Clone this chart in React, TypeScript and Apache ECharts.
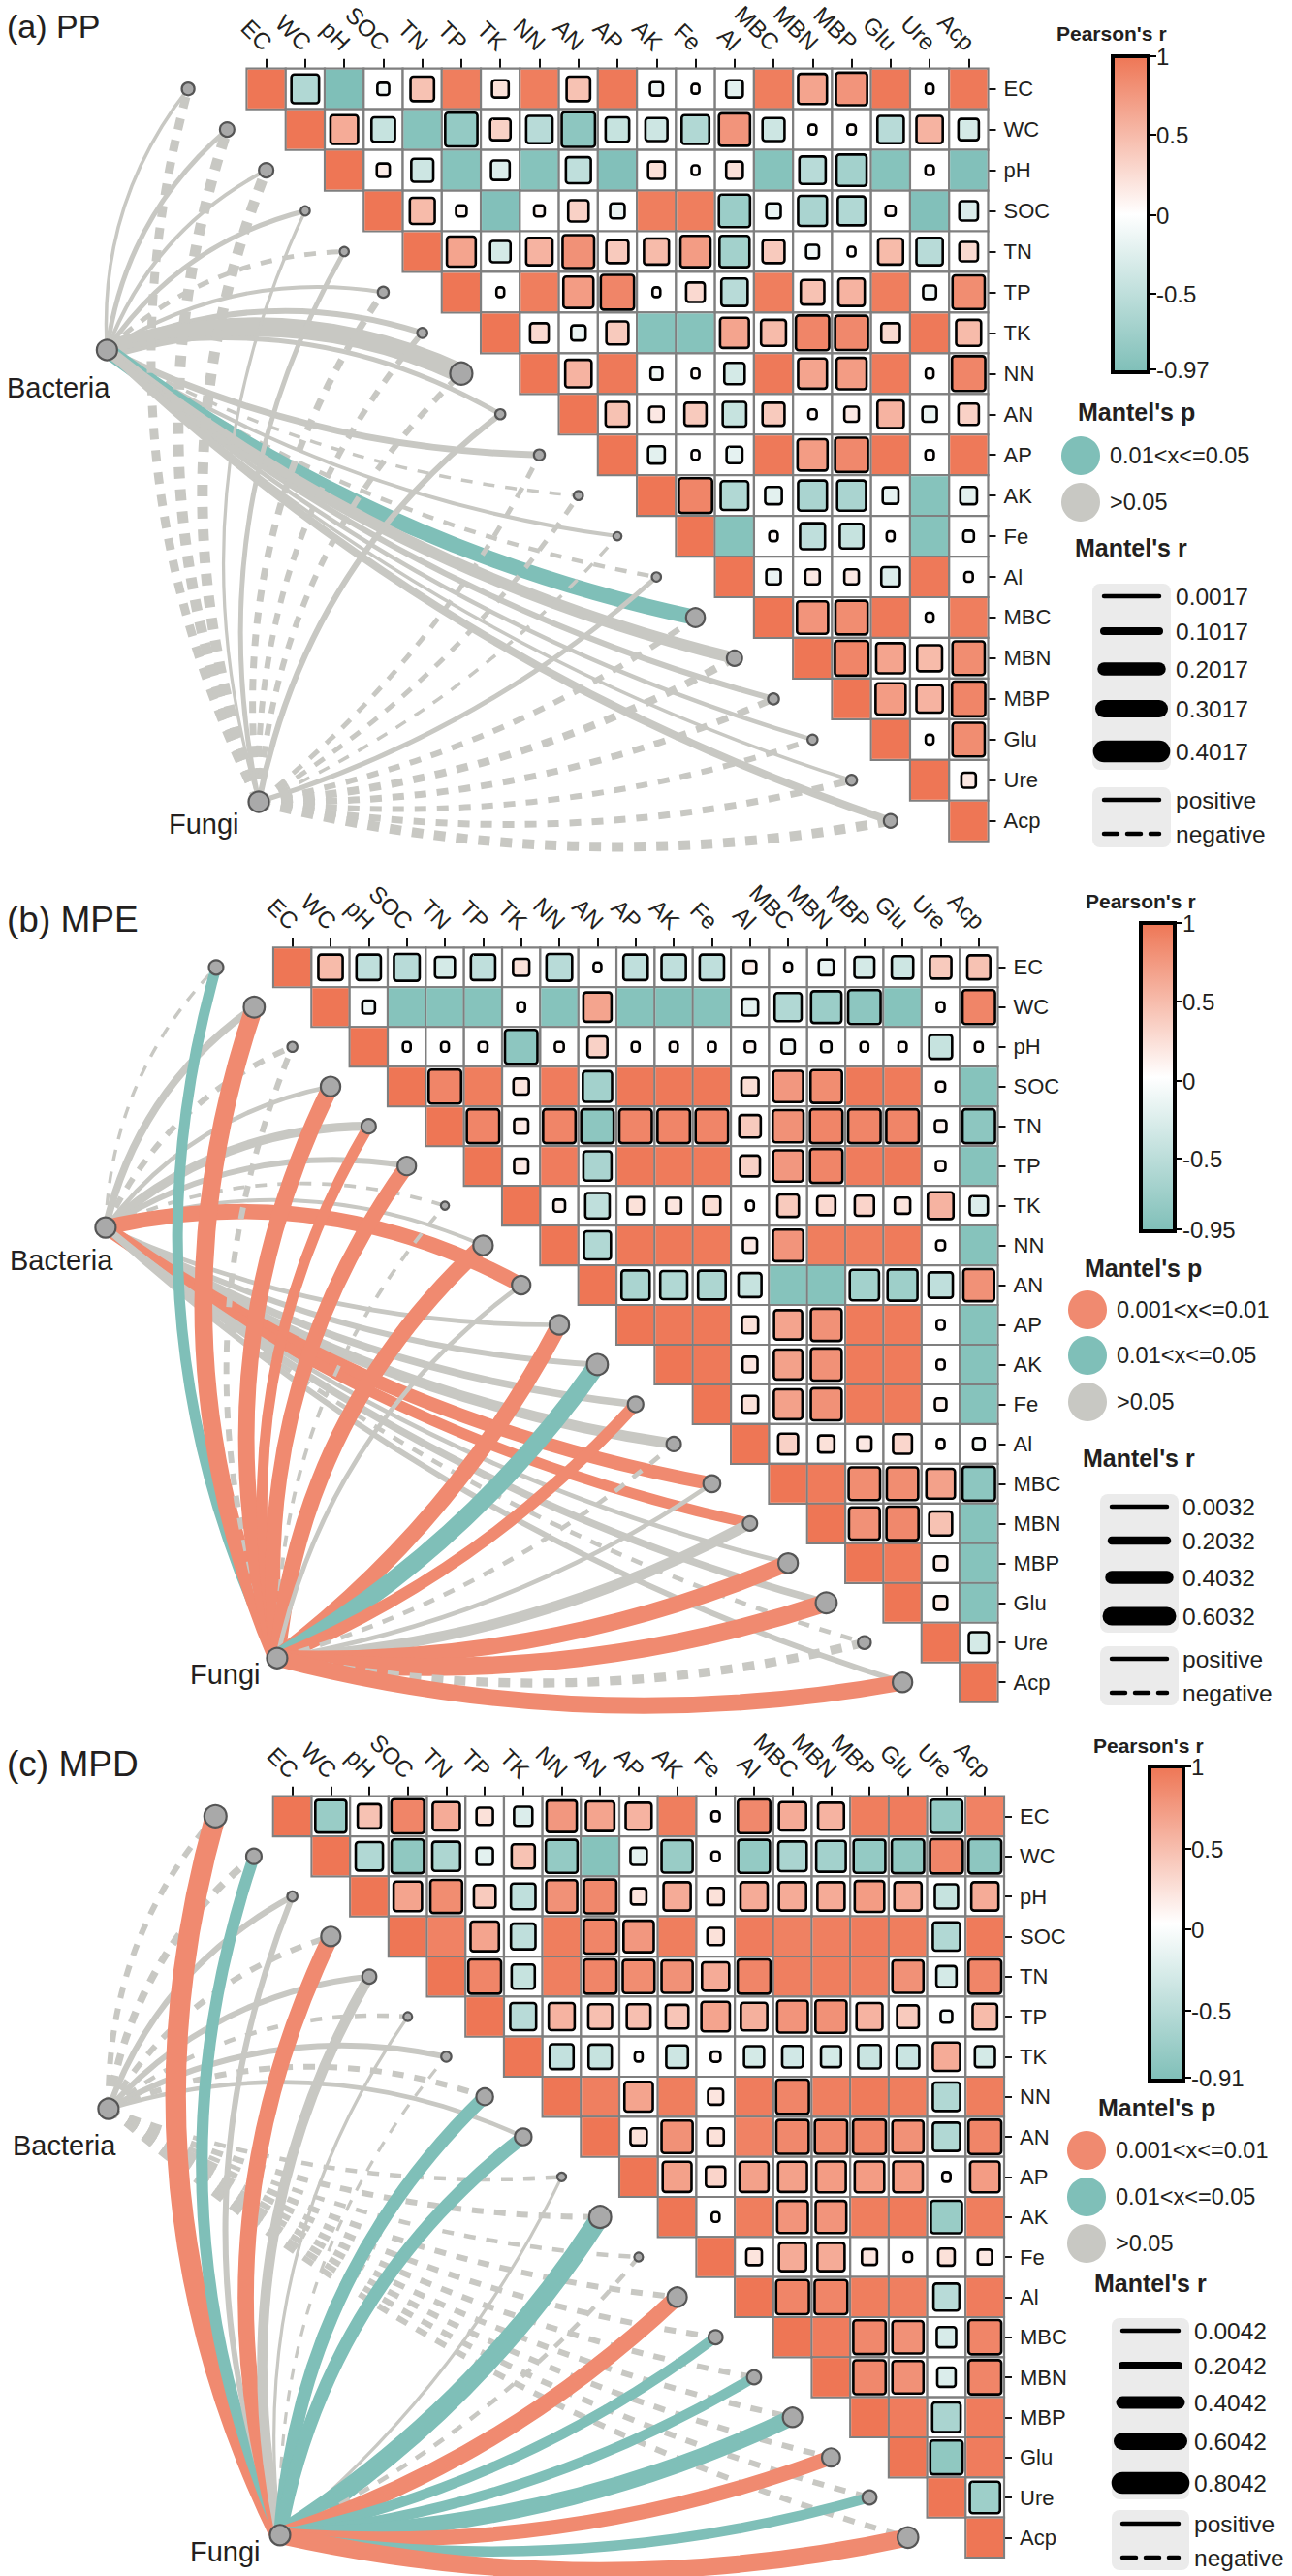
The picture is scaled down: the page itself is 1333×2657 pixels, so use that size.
import React, { useEffect, useRef } from "react";
import * as echarts from "echarts";

const labels = ["EC","WC","pH","SOC","TN","TP","TK","NN","AN","AP","AK","Fe","Al","MBC","MBN","MBP","Glu","Ure","Acp"];

// Pearson's r, upper triangle: each row starts on the diagonal
const ppR = [
 [1,-.55,-.9,-.1,.4,.85,.2,.85,.4,.88,-.12,.04,-.2,.85,.6,.7,.88,.03,.88],
 [1,.55,-.4,-.85,-.75,.3,-.5,-.8,-.4,-.35,-.55,.7,-.35,.03,.05,-.5,.5,-.3],
 [1,.12,-.35,-.85,-.25,-.85,-.45,-.88,.2,.03,.2,-.85,-.5,-.65,-.85,.05,-.88],
 [1,.45,.08,-.88,.08,.3,-.15,.85,.85,-.7,-.15,-.6,-.55,.07,-.88,-.25],
 [1,.6,-.3,.5,.72,.35,.45,.65,-.65,.35,-.12,.03,.45,-.5,.25],
 [1,.04,.85,.65,.8,.04,.25,-.5,.85,.4,.5,.85,-.12,.75],
 [1,.25,-.15,.35,-.85,-.85,.6,.45,.8,.78,.25,.88,.45],
 [1,.5,.88,-.1,.04,-.3,.88,.6,.65,.87,.04,.8],
 [1,.4,.15,.35,-.4,.35,.05,.15,.5,-.15,.3],
 [1,-.2,.03,-.18,.88,.65,.78,.88,.05,.88],
 [1,.8,-.55,-.2,-.6,-.6,-.18,-.85,-.2],
 [1,-.85,.05,-.45,-.4,.03,-.85,-.08],
 [1,-.15,.15,.15,-.25,.88,.05],
 [1,.7,.75,.88,.03,.85],
 [1,.8,.6,.45,.75],
 [1,.65,.5,.8],
 [1,.03,.75],
 [1,.15],
 [1],
];
const mpeR = [
 [1,.45,-.45,-.5,-.3,-.45,.2,-.5,.03,-.45,-.45,-.45,.12,.03,-.17,-.3,-.35,.35,.4],
 [1,-.12,-.85,-.85,-.85,.03,-.85,.6,-.85,-.87,-.85,-.2,-.55,-.7,-.8,-.85,.03,.8],
 [1,.04,.03,.06,-.8,.06,.3,.04,.05,.03,.08,-.13,-.08,.03,.05,-.4,.04],
 [1,.8,.85,.18,.86,-.65,.88,.88,.88,.22,.68,.75,.88,.87,.06,-.85],
 [1,.8,.15,.8,-.8,.8,.8,.8,.35,.72,.8,.8,.8,.1,-.8],
 [1,.15,.86,-.6,.88,.87,.87,.3,.68,.8,.86,.88,.07,-.85],
 [1,.1,-.45,.2,.17,.22,.03,.35,.25,.28,.18,.5,-.25],
 [1,-.55,.88,.88,.87,.15,.7,.85,.85,.87,.06,-.85],
 [1,-.6,-.55,-.58,-.4,-.85,-.85,-.65,-.68,-.45,.72],
 [1,.88,.88,.2,.6,.72,.87,.87,.05,-.85],
 [1,.88,.17,.62,.72,.87,.87,.05,-.85],
 [1,.2,.62,.72,.87,.87,.1,-.85],
 [1,.3,.2,.15,.27,.04,-.1],
 [1,.87,.75,.75,.62,-.8],
 [1,.72,.78,.4,-.85],
 [1,.87,.13,-.85],
 [1,.13,-.85],
 [1,-.3],
 [1],
];
const mpdR = [
 [1,-.72,.4,.8,.55,.2,-.25,.68,.6,.5,.85,.05,.78,.55,.5,.85,.86,-.75,.82],
 [1,-.55,-.78,-.58,-.2,.4,-.75,-.85,-.2,-.72,.05,-.75,-.6,-.65,-.75,-.78,.8,-.8],
 [1,.6,.75,.35,-.45,.72,.78,.18,.55,.2,.55,.55,.55,.65,.55,-.4,.55],
 [1,.82,.6,-.45,.85,.8,.68,.85,.2,.86,.83,.84,.86,.85,-.55,.87],
 [1,.8,-.4,.84,.8,.75,.72,.55,.8,.84,.85,.84,.72,-.3,.8],
 [1,-.5,.5,.42,.42,.38,.6,.52,.7,.72,.5,.35,-.1,.45],
 [1,-.42,-.4,.04,-.35,.07,-.3,-.32,-.3,-.38,-.38,.55,-.3],
 [1,.84,.6,.85,.17,.86,.8,.84,.87,.85,-.55,.85],
 [1,.2,.72,.2,.82,.78,.78,.8,.72,-.55,.8],
 [1,.62,.28,.62,.62,.65,.65,.65,.05,.65],
 [1,.04,.85,.7,.7,.85,.87,-.72,.85],
 [1,.18,.55,.55,.17,.05,.2,.15],
 [1,.8,.8,.85,.84,-.5,.86],
 [1,.86,.78,.72,-.28,.8],
 [1,.78,.72,-.25,.8],
 [1,.86,-.6,.86],
 [1,-.78,.86],
 [1,-.68],
 [1],
];

// Mantel's r per environment variable (a negative value is drawn dashed)
const ppBacteriaR = [.01,.04,.02,.04,-.04,.02,.06,.34,.04,.08,-.01,.02,-.03,.26,.18,.06,.03,.01,.1];
const ppFungiR = [-.12,-.16,-.16,.005,.04,-.08,-.06,-.06,.06,-.04,-.04,-.01,.04,-.06,-.1,-.08,-.06,-.08,-.14];
const mpeBacteriaR = [-.01,.11,-.07,.04,.15,.07,-.02,.02,.3,.04,.07,.11,.19,.26,.19,.04,.11,-.04,.07];
const mpeFungiR = [.19,.37,-.07,.33,.19,.3,-.02,.33,.04,.33,.37,.22,-.04,.04,.19,.33,.37,-.15,.33];
const mpdBacteriaR = [-.08,-.12,.08,-.08,.08,-.04,.08,-.08,.04,-.04,-.08,-.04,-.08,-.08,-.08,-.08,-.08,-.08,-.08];
const mpdFungiR = [.48,.24,.08,.36,.2,.005,-.005,.28,.28,.005,.44,-.04,.36,.2,.2,.36,.32,.2,.4];

// Mantel's p class per environment variable: 0 = 0.001<x<=0.01, 1 = 0.01<x<=0.05, 2 = >0.05
const ppBacteriaP = [2,2,2,2,2,2,2,2,2,2,2,2,2,1,2,2,2,2,2];
const ppFungiP = [2,2,2,2,2,2,2,2,2,2,2,2,2,2,2,2,2,2,2];
const mpeBacteriaP = [2,2,2,2,2,2,2,2,0,2,2,2,2,0,0,2,2,2,2];
const mpeFungiP = [1,0,2,0,0,0,2,0,2,0,1,0,2,2,2,0,0,2,0];
const mpdBacteriaP = [2,2,2,2,2,2,2,2,2,2,2,2,2,2,2,2,2,2,2];
const mpdFungiP = [0,1,2,0,2,2,2,1,1,2,1,2,0,1,1,1,0,1,0];

const ppLegendR = ["0.0017","0.1017","0.2017","0.3017","0.4017"];
const mpeLegendR = ["0.0032","0.2032","0.4032","0.6032"];
const mpdLegendR = ["0.0042","0.2042","0.4042","0.6042","0.8042"];
const ppTicks = ["1","0.5","0","-0.5","-0.97"];
const mpeTicks = ["1","0.5","0","-0.5","-0.95"];
const mpdTicks = ["1","0.5","0","-0.5","-0.91"];
const pLabels = ["0.001<x<=0.01","0.01<x<=0.05",">0.05"];

const FONT = '"Liberation Sans", Arial, sans-serif';
const INK = "#231f20";
const P_COLORS = ["#F08A70","#7FBFB8","#C8C8C3"];

const panels = [
 { title:"(a) PP", titleSize:34, titleY:27, box:[254.5,70.7,765,797], matrix:ppR,
   bact:[-4.08,6.42], fung:[-0.19,17.53], bR:ppBacteriaR, fR:ppFungiR, bP:ppBacteriaP, fP:ppFungiP, k:50,
   bLabel:[7,400], fLabel:[174,850], bSize:29,
   pearsonX:1090, pearsonY:34, bar:[1148,58,37,326], tickText:ppTicks, tickY:[58,139,222,303,381],
   pTitle:[1112,425], pKeys:[1,2], pX:1115, pY:[470,518], pLabelX:1145,
   rTitle:[1109,565], rBox:[1127,602,81,192], rLegend:ppLegendR, rY:[615,651,690,731,775], rW:[4.5,8,13.5,18,22.6],
   lineX:[1139,1196], labelX:1213, box2:[812,62], sY:[825,860] },
 { title:"(b) MPE", titleSize:37, titleY:948, box:[282,977.3,747.5,778.4], matrix:mpeR,
   bact:[-4.9,6.55], fung:[-0.4,17.39], bR:mpeBacteriaR, fR:mpeFungiR, bP:mpeBacteriaP, fP:mpeFungiP, k:42,
   bLabel:[10,1300], fLabel:[196,1727], bSize:29,
   pearsonX:1120, pearsonY:929, bar:[1177,952,35,318], tickText:mpeTicks, tickY:[952,1033,1115,1195,1268],
   pTitle:[1119,1308], pKeys:[0,1,2], pX:1122, pY:[1351,1398,1446], pLabelX:1152,
   rTitle:[1117,1504], rBox:[1135,1541,81,143], rLegend:mpeLegendR, rY:[1554,1589,1627,1667], rW:[4.5,8.5,13.5,19],
   lineX:[1147,1204], labelX:1220, box2:[1698,61], sY:[1711,1746] },
 { title:"(c) MPD", titleSize:37, titleY:1819, box:[281.8,1852.7,754.2,785.3], matrix:mpdR,
   bact:[-4.78,7.3], fung:[-0.32,17.94], bR:mpdBacteriaR, fR:mpdFungiR, bP:mpdBacteriaP, fP:mpdFungiP, k:38,
   bLabel:[13,2213], fLabel:[196,2632], bSize:29,
   pearsonX:1128, pearsonY:1800, bar:[1186,1822,35,324], tickText:mpdTicks, tickY:[1822,1907,1990,2074,2143],
   pTitle:[1133,2174], pKeys:[0,1,2], pX:1121, pY:[2218,2266,2314], pLabelX:1151,
   rTitle:[1129,2355], rBox:[1147,2391,80,187], rLegend:mpdLegendR, rY:[2404,2440,2478,2518,2561], rW:[4.5,8,13,18,22.6],
   lineX:[1158,1216], labelX:1232, box2:[2589,62], sY:[2603,2638] },
];

function mix(r: number) {
  const t = Math.min(1, Math.abs(r) / 0.9);
  const c = r >= 0 ? [238,118,85] : [127,191,184];
  const v = c.map((k) => Math.round(255 + (k - 255) * t));
  return `rgb(${v[0]},${v[1]},${v[2]})`;
}

function renderCell(_: any, api: any) {
  const p = api.coord([api.value(0), api.value(1)]);
  const s = api.size([1, 1]);
  const r = api.value(2);
  const a = Math.abs(r);
  const cell = { type:"rect", shape:{ x:p[0]-s[0]/2, y:p[1]-s[1]/2, width:s[0], height:s[1] },
    style:{ fill:"#fff", stroke:"#7f7f7f", lineWidth:2.2 } };
  const full = a >= 0.82;
  const f = full ? 1 : Math.sqrt(a) * 1.03;
  const w = full ? s[0]-2 : Math.max(8, f*(s[0]-3));
  const h = full ? s[1]-2 : Math.max(10, f*(s[1]-3));
  const inner = { type:"rect", shape:{ x:p[0]-w/2, y:p[1]-h/2, width:w, height:h, r: full ? 0 : 3 },
    style: full ? { fill:mix(r) } : { fill:mix(r), stroke:"#000", lineWidth:2.6 } };
  return { type:"group", children:[cell, inner] };
}

function makeLinkRender(k: number) {
  return (_: any, api: any) => {
    const a = api.coord([api.value(0), api.value(1)]);
    const row = api.value(3);
    const b = api.coord([row - 2, row]);
    const r = api.value(2);
    const dx = b[0]-a[0], dy = b[1]-a[1];
    const bend = row < 9 ? 0.19 : -0.11;
    const w = 3 + k*Math.abs(r);
    return { type:"bezierCurve",
      shape:{ x1:a[0], y1:a[1], x2:b[0], y2:b[1], cpx1:(a[0]+b[0])/2 + dy*bend, cpy1:(a[1]+b[1])/2 - dx*bend },
      style:{ fill:"none", stroke:P_COLORS[api.value(4)], lineWidth:w, lineDash: r < 0 ? [12,11] : null } };
  };
}

function renderDot(_: any, api: any) {
  const p = api.coord([api.value(0), api.value(1)]);
  return { type:"circle", shape:{ cx:p[0], cy:p[1], r:api.value(2) },
    style:{ fill:"#A9A9A9", stroke:"#555", lineWidth:2.2 } };
}

function renderTopLabel(params: any, api: any) {
  const p = api.coord([api.value(0), -0.5]);
  return { type:"text", x:p[0]+2, y:p[1]-23, rotation:-Math.PI/4,
    style:{ text:labels[params.dataIndex], fill:INK, textAlign:"right", textVerticalAlign:"middle", font:`24px ${FONT}` } };
}

function buildOption() {
  const grid: any[] = [], xAxis: any[] = [], yAxis: any[] = [], series: any[] = [], graphic: any[] = [];
  const text = (t: string, x: number, y: number, size: number, bold = false, align = "left") =>
    graphic.push({ type:"text", silent:true, style:{ text:t, x, y, fill:INK, textAlign:align, textVerticalAlign:"middle",
      font:`${bold ? "bold " : ""}${size}px ${FONT}` } });
  panels.forEach((p, idx) => {
    const [left, top, width, height] = p.box;
    grid.push({ left, top, width, height, containLabel:false, show:false });
    const xi = idx*2, yi = idx*2;
    xAxis.push({ type:"category", gridIndex:idx, position:"top", data:labels,
      axisLine:{ show:false, onZero:false }, splitLine:{show:false},
      axisTick:{ show:true, alignWithLabel:true, length:10, lineStyle:{ color:"#111", width:2 } },
      axisLabel:{ show:false } });
    xAxis.push({ type:"value", gridIndex:idx, min:-0.5, max:18.5, show:false });
    yAxis.push({ type:"category", gridIndex:idx, position:"right", inverse:true, data:labels,
      axisLine:{ show:false, onZero:false }, splitLine:{show:false},
      axisTick:{ show:true, alignWithLabel:true, length:8, lineStyle:{ color:"#111", width:2 } },
      axisLabel:{ interval:0, margin:16, fontSize:22, color:INK, fontFamily:FONT } });
    yAxis.push({ type:"value", gridIndex:idx, min:-0.5, max:18.5, inverse:true, show:false });

    const links: number[][] = [];
    p.bR.forEach((r, i) => links.push([p.bact[0], p.bact[1], r, i, p.bP[i]]));
    p.fR.forEach((r, i) => links.push([p.fung[0], p.fung[1], r, i, p.fP[i]]));
    series.push({ type:"custom", xAxisIndex:xi+1, yAxisIndex:yi+1, coordinateSystem:"cartesian2d", clip:false, silent:true,
      renderItem:makeLinkRender(p.k), data:links, z:2 });
    const dots: number[][] = labels.map((_, i) => {
      const w = 3 + p.k*Math.max(Math.abs(p.bR[i]), Math.abs(p.fR[i]));
      return [i-2, i, Math.min(11.5, 2.5 + 0.45*w)];
    });
    dots.push([p.bact[0], p.bact[1], 10.5], [p.fung[0], p.fung[1], 10.5]);
    series.push({ type:"custom", xAxisIndex:xi+1, yAxisIndex:yi+1, coordinateSystem:"cartesian2d", clip:false, silent:true,
      renderItem:renderDot, data:dots, z:3 });
    const cells: number[][] = [];
    p.matrix.forEach((row, i) => row.forEach((r, j) => cells.push([i+j, i, r])));
    series.push({ type:"custom", xAxisIndex:xi, yAxisIndex:yi, coordinateSystem:"cartesian2d", clip:false, silent:true,
      renderItem:renderCell, data:cells, z:4 });
    series.push({ type:"custom", xAxisIndex:xi+1, yAxisIndex:yi+1, coordinateSystem:"cartesian2d", clip:false, silent:true,
      renderItem:renderTopLabel, data:labels.map((_, i) => [i, 0]), z:5 });

    text(p.title, 7, p.titleY, p.titleSize);
    text("Bacteria", p.bLabel[0], p.bLabel[1], p.bSize);
    text("Fungi", p.fLabel[0], p.fLabel[1], p.bSize);

    // colour bar
    text("Pearson's r", p.pearsonX, p.pearsonY, 21, true);
    const [bx, by, bw, bh] = p.bar;
    graphic.push({ type:"rect", silent:true, shape:{ x:bx, y:by, width:bw, height:bh },
      style:{ stroke:"#000", lineWidth:4, fill:new echarts.graphic.LinearGradient(0,0,0,1,[
        { offset:0, color:"#EE7655" },{ offset:0.5, color:"#ffffff" },{ offset:1, color:"#7FBFB8" }]) } });
    p.tickText.forEach((t, i) => {
      graphic.push({ type:"line", silent:true, shape:{ x1:bx+bw, y1:p.tickY[i], x2:bx+bw+8, y2:p.tickY[i] }, style:{ stroke:"#000", lineWidth:2 } });
      text(t, bx+bw+8, p.tickY[i], 24);
    });

    // Mantel's p
    text("Mantel's p", p.pTitle[0], p.pTitle[1], 25, true);
    p.pKeys.forEach((k, i) => {
      graphic.push({ type:"circle", silent:true, shape:{ cx:p.pX, cy:p.pY[i], r:20 }, style:{ fill:P_COLORS[k] } });
      text(pLabels[k], p.pLabelX, p.pY[i], 23.5);
    });

    // Mantel's r
    text("Mantel's r", p.rTitle[0], p.rTitle[1], 25, true);
    const [rx, ry, rw, rh] = p.rBox;
    graphic.push({ type:"rect", silent:true, shape:{ x:rx, y:ry, width:rw, height:rh, r:8 }, style:{ fill:"#EBEBEB" } });
    graphic.push({ type:"rect", silent:true, shape:{ x:rx, y:p.box2[0], width:rw, height:p.box2[1], r:8 }, style:{ fill:"#EBEBEB" } });
    p.rLegend.forEach((t, i) => {
      graphic.push({ type:"line", silent:true, shape:{ x1:p.lineX[0], y1:p.rY[i], x2:p.lineX[1], y2:p.rY[i] },
        style:{ stroke:"#000", lineWidth:p.rW[i], lineCap:"round" } });
      text(t, p.labelX, p.rY[i], 24.5);
    });
    graphic.push({ type:"line", silent:true, shape:{ x1:p.lineX[0], y1:p.sY[0], x2:p.lineX[1], y2:p.sY[0] },
      style:{ stroke:"#000", lineWidth:4.5, lineCap:"round" } });
    graphic.push({ type:"line", silent:true, shape:{ x1:p.lineX[0], y1:p.sY[1], x2:p.lineX[1], y2:p.sY[1] },
      style:{ stroke:"#000", lineWidth:4.5, lineCap:"round", lineDash:[14,10] } });
    text("positive", p.labelX, p.sY[0], 24.5);
    text("negative", p.labelX, p.sY[1], 24.5);
  });
  return { animation:false, backgroundColor:"#fff", textStyle:{ fontFamily:FONT }, grid, xAxis, yAxis, series, graphic };
}

export default function App() {
  const ref = useRef<HTMLDivElement>(null);
  useEffect(() => {
    const chart = echarts.init(ref.current!, undefined, { renderer:"svg" });
    chart.setOption(buildOption() as any);
    return () => chart.dispose();
  }, []);
  return <div ref={ref} style={{ position:"absolute", left:0, top:0, width:1333, height:2657 }} />;
}
